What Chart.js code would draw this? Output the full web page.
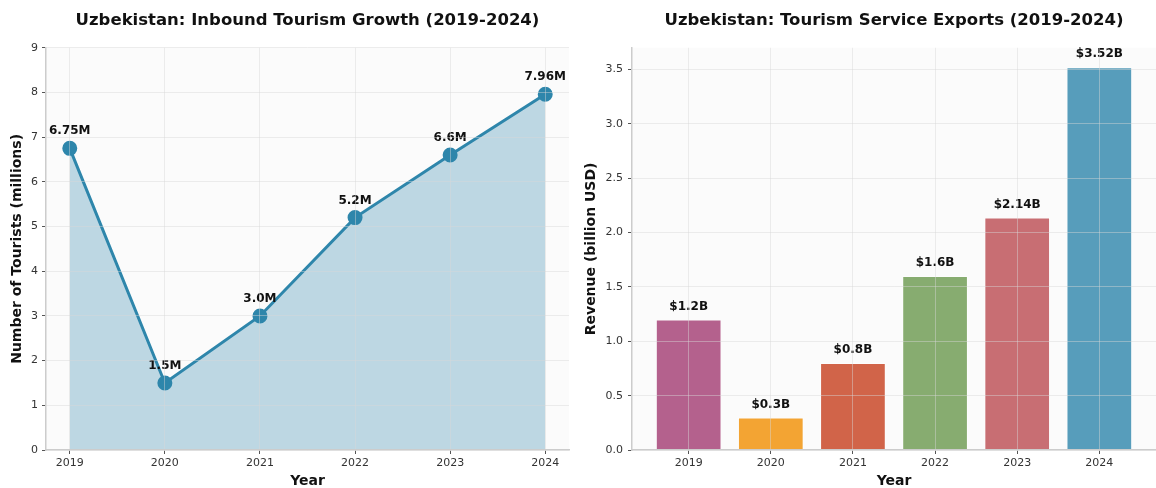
<!DOCTYPE html>
<html>
<head>
<meta charset="utf-8">
<script src="https://cdn.jsdelivr.net/npm/chart.js@4.4.1/dist/chart.umd.min.js"></script>
<style>
  body { margin: 0; background: #fff; }
  .panel { position: absolute; top: 0; width: 578px; height: 488px; }
</style>
</head>
<body>
<div class="panel" style="left:0"><canvas id="tourists" width="578" height="488"></canvas></div>
<div class="panel" style="left:578px"><canvas id="exports" width="578" height="488"></canvas></div>
<script>
const years = [2019, 2020, 2021, 2022, 2023, 2024];
const tourists = [6.75, 1.5, 3.0, 5.2, 6.6, 7.96];
const revenue = [1.2, 0.3, 0.8, 1.6, 2.14, 3.52];
const barColors = [
  "rgba(162,59,114,0.8)",
  "rgba(241,143,1,0.8)",
  "rgba(199,62,29,0.8)",
  "rgba(106,153,78,0.8)",
  "rgba(188,75,81,0.8)",
  "rgba(46,134,171,0.8)",
];

const FONT = "'DejaVu Sans', sans-serif";
const gridColor = "rgba(215,215,215,0.45)";

// draws the value text above every point / bar
const valueLabels = {
  id: "valueLabels",
  afterDatasetsDraw(chart, args, opts) {
    const ctx = chart.ctx;
    const meta = chart.getDatasetMeta(0);
    const values = chart.data.datasets[0].data;
    ctx.save();
    ctx.font = `bold 12px ${FONT}`;
    ctx.fillStyle = "#111";
    ctx.textAlign = "center";
    ctx.textBaseline = "middle";
    meta.data.forEach((el, i) => {
      const v = values[i].y;
      ctx.fillText(opts.format(v), el.x, el.y - opts.offset);
    });
    ctx.restore();
  },
};

const plotBg = {
  id: "plotBg",
  beforeDraw(chart) {
    const { ctx, chartArea: a } = chart;
    ctx.save();
    ctx.fillStyle = "#fbfbfb";
    ctx.fillRect(a.left, a.top, a.right - a.left, a.bottom - a.top);
    ctx.restore();
  },
};

const titleOpts = (text) => ({
  display: true,
  text: text,
  fullSize: false,
  color: "#111",
  font: { family: FONT, size: 16.5, weight: "bold" },
  padding: { top: 11, bottom: 17 },
});

const axisTitle = (text, pad) => ({
  display: true,
  text: text,
  color: "#111",
  font: { family: FONT, size: 14, weight: "bold" },
  padding: pad,
});

const tickFont = { family: FONT, size: 11 };
const gridOpts = { color: gridColor, tickColor: "#555", tickLength: 4, z: 1 };
const borderOpts = { color: "#cccccc", width: 1.5, z: 1 };

new Chart(document.getElementById("tourists"), {
  type: "line",
  data: {
    datasets: [
      {
        data: years.map((y, i) => ({ x: y, y: tourists[i] })),
        borderColor: "#2E86AB",
        backgroundColor: "rgba(46,134,171,0.3)",
        borderWidth: 3,
        fill: "origin",
        pointRadius: 6,
        pointBackgroundColor: "#2E86AB",
        pointBorderColor: "#2E86AB",
        tension: 0,
      },
    ],
  },
  options: {
    responsive: false,
    animation: false,
    devicePixelRatio: 1,
    layout: { padding: { left: 1, right: -2, top: 0, bottom: 0 } },
    plugins: {
      legend: { display: false },
      tooltip: { enabled: false },
      title: titleOpts("Uzbekistan: Inbound Tourism Growth (2019-2024)"),
      valueLabels: {
        offset: 17,
        format: (v) => (Number.isInteger(v) ? v.toFixed(1) : String(v)) + "M",
      },
    },
    scales: {
      x: {
        type: "linear",
        min: 2018.75,
        max: 2024.25,
        afterFit: (s) => { s.height = 38; },
        ticks: {
          stepSize: 1,
          includeBounds: false,
          color: "#333",
          font: tickFont,
          padding: 3,
          callback: (v) => String(v),
        },
        grid: gridOpts,
        border: borderOpts,
        title: axisTitle("Year", { top: 0, bottom: -2 }),
      },
      y: {
        min: 0,
        max: 9,
        afterFit: (s) => { s.width = 45; },
        ticks: { stepSize: 1, color: "#333", font: tickFont, padding: 4 },
        grid: gridOpts,
        border: borderOpts,
        title: axisTitle("Number of Tourists (millions)", { top: 8, bottom: 0 }),
      },
    },
  },
  plugins: [plotBg, valueLabels],
});

new Chart(document.getElementById("exports"), {
  type: "bar",
  data: {
    datasets: [
      {
        data: years.map((y, i) => ({ x: i, y: revenue[i] })),
        backgroundColor: barColors,
        borderColor: "rgba(255,255,255,0.5)",
        borderWidth: 1,
        categoryPercentage: 0.8,
        barPercentage: 1,
      },
    ],
  },
  options: {
    responsive: false,
    animation: false,
    devicePixelRatio: 1,
    layout: { padding: { left: 0, right: -1, top: 0, bottom: 0 } },
    plugins: {
      legend: { display: false },
      tooltip: { enabled: false },
      title: titleOpts("Uzbekistan: Tourism Service Exports (2019-2024)"),
      valueLabels: { offset: 13, format: (v) => "$" + v + "B" },
    },
    scales: {
      x: {
        type: "linear",
        min: -0.69,
        max: 5.69,
        offset: false,
        afterFit: (s) => { s.height = 38; },
        ticks: {
          stepSize: 1,
          includeBounds: false,
          color: "#333",
          font: tickFont,
          padding: 3,
          callback: (v) => String(years[v]),
        },
        grid: Object.assign({ offset: false }, gridOpts),
        border: borderOpts,
        title: axisTitle("Year", { top: 0, bottom: -2 }),
      },
      y: {
        min: 0,
        max: 3.7,
        afterFit: (s) => { s.width = 54; },
        ticks: {
          stepSize: 0.5,
          includeBounds: false,
          color: "#333",
          font: tickFont,
          padding: 5,
          callback: (v) => v.toFixed(1),
        },
        grid: gridOpts,
        border: borderOpts,
        title: axisTitle("Revenue (billion USD)", { top: 5, bottom: 0 }),
      },
    },
  },
  plugins: [plotBg, valueLabels],
});
</script>
</body>
</html>
